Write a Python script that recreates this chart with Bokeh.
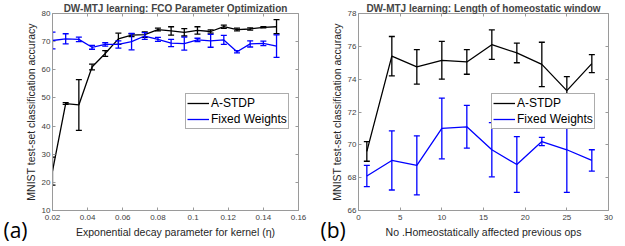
import numpy as np
from bokeh.plotting import figure
from bokeh.models import (ColumnDataSource, Legend, LegendItem, Label, LinearAxis,
                          Range1d, FixedTicker, CustomJSTickFormatter)
from bokeh.layouts import row
from bokeh.embed import file_html
from bokeh.resources import INLINE

# ---------------- data (a) ----------------
eta = [0.02, 0.0275, 0.035, 0.0425, 0.05, 0.0575, 0.065, 0.0725, 0.08,
       0.0875, 0.095, 0.1025, 0.11, 0.1175, 0.125, 0.1325, 0.14, 0.1475]
astdp_a = [24.0, 48.0, 47.5, 61.0, 65.8, 71.0, 72.3, 72.5, 74.3,
           73.8, 73.3, 74.0, 73.6, 75.3, 74.3, 74.5, 75.1, 75.3]
astdp_a_err = [5.0, 0.3, 9.0, 1.0, 1.0, 2.0, 0.5, 1.0, 0.5,
               1.5, 1.3, 1.3, 0.6, 0.6, 0.5, 0.4, 0.2, 2.5]
fixed_a = [70.4, 71.0, 70.8, 68.0, 69.0, 69.0, 70.0, 72.0, 70.8,
           69.5, 69.3, 70.6, 70.3, 70.6, 66.4, 69.2, 69.4, 68.4]
fixed_a_err = [3.0, 1.8, 0.8, 0.7, 0.6, 1.3, 2.9, 1.2, 0.7,
               1.3, 2.3, 0.6, 2.3, 1.6, 0.4, 1.1, 0.8, 4.0]

# ---------------- data (b) ----------------
ops = [1, 4, 7, 10, 13, 16, 19, 22, 25, 28]
astdp_b = [69.6, 75.4, 74.75, 75.15, 75.05, 76.1, 75.6, 74.9, 73.3, 74.95]
astdp_b_err = [0.6, 1.2, 1.05, 1.15, 0.75, 0.9, 0.6, 1.35, 0.85, 0.55]
fixed_b = [68.1, 69.05, 68.75, 71.0, 71.1, 69.7, 68.8, 70.2, 69.7, 69.05]
fixed_b_err = [0.65, 1.8, 1.8, 1.85, 1.3, 1.65, 1.7, 0.25, 2.6, 0.65]

xticks_a = [0.02, 0.04, 0.06, 0.08, 0.1, 0.12, 0.14, 0.16]
yticks_a = [10, 20, 30, 40, 50, 60, 70, 80]
xticks_b = [0, 5, 10, 15, 20, 25, 30]
yticks_b = [66, 68, 70, 72, 74, 76, 78]

FONT = "Liberation Sans"
AX_COL = "#9a9a9a"
TXT_COL = "#404040"


def make_fig(title, xlabel, xr, yr, xt, yt, bl, fw, br, series, letter, letter_x):
    p = figure(frame_width=fw, frame_height=197, output_backend="svg",
               toolbar_location=None, x_range=Range1d(*xr), y_range=Range1d(*yr),
               min_border_left=bl, min_border_right=br, min_border_top=0,
               min_border_bottom=0)
    p.title.text = title
    p.title.text_font = FONT
    p.title.text_font_size = "10px"
    p.title.text_font_style = "bold"
    p.title.align = "center"
    p.title.standoff = 0
    p.title.offset = 0
    p.grid.visible = False
    p.outline_line_color = AX_COL
    p.background_fill_color = "white"
    p.border_fill_color = "white"

    for ax in (p.xaxis[0], p.yaxis[0]):
        ax.axis_line_color = AX_COL
        ax.major_tick_line_color = AX_COL
        ax.major_tick_in = 3
        ax.major_tick_out = 0
        ax.minor_tick_line_color = None
        ax.major_label_text_font = FONT
        ax.major_label_text_font_size = "8px"
        ax.major_label_text_color = TXT_COL
        ax.axis_label_text_font = FONT
        ax.axis_label_text_font_size = "10.5px"
        ax.axis_label_text_font_style = "normal"
        ax.axis_label_text_color = "#262626"
    p.xaxis.ticker = FixedTicker(ticks=xt)
    p.yaxis.ticker = FixedTicker(ticks=yt)
    p.xaxis.axis_label = xlabel
    p.yaxis.axis_label = "MNIST test-set classification accuracy"
    p.xaxis.major_label_standoff = 4
    p.yaxis.major_label_standoff = 2
    p.xaxis.axis_label_standoff = 3
    p.yaxis.axis_label_standoff = 2

    # box ticks on top / right
    for loc, tk in (("right", yt), ("above", xt)):
        ax = LinearAxis(ticker=FixedTicker(ticks=tk),
                        formatter=CustomJSTickFormatter(code="return ''"))
        ax.axis_line_color = None
        ax.major_tick_line_color = AX_COL
        ax.major_tick_in = 3
        ax.major_tick_out = 0
        ax.minor_tick_line_color = None
        ax.major_label_standoff = 0
        ax.major_label_text_font_size = "1px"
        p.add_layout(ax, loc)

    items = []
    for name, xs, ys, es, col in series:
        lo = [y - e for y, e in zip(ys, es)]
        hi = [y + e for y, e in zip(ys, es)]
        src = ColumnDataSource(dict(x=xs, y=ys, lo=lo, hi=hi))
        ln = p.line("x", "y", source=src, line_color=col, line_width=1.3)
        p.segment(x0="x", y0="lo", x1="x", y1="hi", source=src,
                  line_color=col, line_width=1.3)
        p.scatter("x", "lo", source=src, marker="dash", size=6,
                  line_color=col, line_width=1.3)
        p.scatter("x", "hi", source=src, marker="dash", size=6,
                  line_color=col, line_width=1.3)
        leg_src = ColumnDataSource(dict(x=[], y=[]))
        bar = p.scatter("x", "y", source=leg_src, marker="dash", angle=np.pi / 2,
                        size=8, line_color=col, line_width=1.3)
        items.append(LegendItem(label=name, renderers=[ln, bar]))

    legend = Legend(items=items, location=(133, 81))
    legend.label_text_font = FONT
    legend.label_text_font_size = "12px"
    legend.label_text_color = "#000000"
    legend.glyph_width = 22
    legend.glyph_height = 16
    legend.label_height = 16
    legend.label_standoff = 2
    legend.spacing = 0
    legend.padding = 1
    legend.margin = 0
    legend.border_line_color = "#5a5a5a"
    legend.border_line_width = 1
    legend.background_fill_color = "white"
    legend.background_fill_alpha = 1
    p.add_layout(legend, "center")

    p.add_layout(Label(x=letter_x, y=39, x_units="screen", y_units="screen",
                       text=letter, text_font="Open Sans", text_font_size="21px",
                       text_baseline="middle", text_align="left",
                       text_color="#000000"), "below")
    return p


pa = make_fig("DW-MTJ learning: FCO Parameter Optimization",
              "Exponential decay parameter for kernel (η)",
              (0.02, 0.16), (10, 80), xticks_a, yticks_a, 52, 246, 10,
              [("A-STDP", eta, astdp_a, astdp_a_err, "#000000"),
               ("Fixed Weights", eta, fixed_a, fixed_a_err, "#0000ff")],
              "(a)", -49)
pb = make_fig("DW-MTJ learning: Length of homeostatic window",
              "No .Homeostatically affected previous ops",
              (0, 30), (66, 78), xticks_b, yticks_b, 50, 250, 8,
              [("A-STDP", ops, astdp_b, astdp_b_err, "#000000"),
               ("Fixed Weights", ops, fixed_b, fixed_b_err, "#0000ff")],
              "(b)", -38)

layout = row(pa, pb, spacing=0)
open("out.html", "w").write(file_html(layout, INLINE))
